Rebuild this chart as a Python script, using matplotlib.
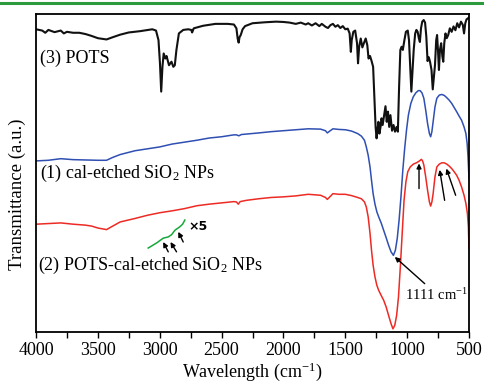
#---------------------------------------------------------------------------------
# FTIR spectra of POTS, cal-etched SiO2 NPs and POTS-cal-etched SiO2 NPs
#---------------------------------------------------------------------------------
import numpy as np
import matplotlib
matplotlib.use("Agg")
import matplotlib.pyplot as plt
from matplotlib.lines import Line2D

# (3) POTS - wavenumber [cm-1] and transmittance [a.u.]
pots_wn = [4000, 3950, 3925, 3900, 3850, 3800, 3775, 3750, 3700, 3650, 3600, 3550, 3500,
           3430, 3380, 3320, 3250, 3160, 3060, 3030, 3010, 2998, 2988, 2978, 2968, 2955,
           2945, 2925, 2905, 2890, 2878, 2865, 2845, 2810, 2770, 2745, 2738, 2725, 2650,
           2550, 2450, 2400, 2380, 2370, 2362, 2355, 2345, 2330, 2310, 2250, 2150, 2060,
           2000, 1950, 1900, 1860, 1820, 1800, 1770, 1740, 1710, 1690, 1660, 1640, 1620,
           1600, 1580, 1560, 1540, 1520, 1500, 1480, 1465, 1455, 1448, 1435, 1420, 1405,
           1397, 1388, 1375, 1362, 1350, 1335, 1322, 1312, 1300, 1288, 1275, 1265, 1255,
           1247, 1240, 1232, 1224, 1215, 1207, 1198, 1188, 1175, 1165, 1155, 1145, 1135,
           1122, 1110, 1098, 1085, 1075, 1065, 1055, 1045, 1035, 1022, 1010, 995, 985,
           975, 966, 957, 947, 935, 925, 915, 905, 897, 888, 878, 866, 855, 845, 835, 825,
           815, 803, 793, 785, 775, 765, 758, 750, 743, 735, 725, 715, 708, 700, 690, 680,
           668, 655, 640, 625, 610, 595, 580, 565, 550, 540, 530, 520, 500]
pots_t = [95.2, 94.8, 94.1, 95.0, 94.3, 94.8, 93.9, 94.4, 94.1, 94.1, 93.7, 93.1, 92.4,
          92.0, 92.7, 93.5, 94.2, 94.6, 95.2, 94.8, 91.8, 84.5, 75.6, 83.4, 87.6, 86.0,
          86.8, 83.9, 85.0, 83.4, 83.9, 88.7, 93.9, 95.0, 95.2, 95.0, 94.2, 95.5, 96.3,
          96.9, 96.9, 96.7, 95.5, 92.3, 91.0, 92.7, 93.4, 95.2, 96.2, 97.1, 97.4, 97.6,
          97.5, 97.3, 96.9, 97.3, 96.7, 97.1, 96.4, 97.1, 96.2, 96.9, 96.0, 95.6, 96.5,
          96.9, 96.0, 96.5, 95.6, 96.2, 95.2, 95.4, 93.9, 88.1, 91.8, 94.4, 94.8, 90.8,
          84.5, 89.7, 92.3, 89.5, 90.8, 92.3, 90.2, 86.0, 86.8, 85.3, 83.4, 74.0, 64.5,
          60.9, 63.5, 66.1, 62.4, 64.5, 67.2, 65.1, 67.7, 71.0, 66.1, 69.3, 64.5, 68.2,
          63.3, 65.1, 63.0, 64.5, 63.0, 77.1, 88.7, 89.7, 88.7, 91.8, 94.4, 94.8, 91.8,
          83.4, 75.6, 81.8, 88.7, 93.9, 95.0, 94.4, 92.3, 91.2, 95.5, 97.6, 98.1, 97.3,
          92.9, 85.2, 86.4, 85.0, 82.4, 76.3, 79.7, 83.9, 91.8, 93.4, 88.1, 82.4, 88.7,
          90.8, 86.6, 85.0, 90.8, 93.9, 92.4, 93.4, 95.5, 94.4, 96.1, 94.9, 97.1, 95.8,
          97.6, 96.6, 93.9, 97.1, 98.3, 98.9]

# (1) cal-etched SiO2 NPs
sio2_wn = [4000, 3900, 3800, 3700, 3600, 3500, 3430, 3380, 3320, 3200, 3000, 2900, 2800,
           2700, 2600, 2500, 2400, 2380, 2360, 2340, 2200, 2100, 2000, 1900, 1800, 1700,
           1660, 1645, 1625, 1600, 1550, 1500, 1450, 1400, 1370, 1345, 1330, 1315, 1300,
           1288, 1275, 1260, 1245, 1230, 1210, 1190, 1170, 1150, 1130, 1111, 1095, 1080,
           1065, 1050, 1035, 1020, 1005, 990, 970, 950, 930, 910, 895, 880, 865, 850, 835,
           820, 810, 800, 790, 775, 760, 740, 720, 700, 680, 660, 640, 620, 600, 580, 560,
           540, 525, 515, 508, 500]
sio2_t = [53.8, 54.0, 54.5, 54.2, 54.1, 54.0, 54.0, 54.9, 55.8, 57.0, 58.2, 59.1, 59.7,
          60.3, 61.0, 61.4, 62.0, 62.0, 61.7, 62.1, 62.6, 63.0, 63.3, 63.6, 63.9, 63.8,
          63.3, 62.6, 63.2, 63.9, 63.7, 63.6, 63.2, 62.4, 61.6, 60.3, 58.2, 55.6, 51.9,
          47.7, 43.5, 40.2, 37.8, 36.2, 34.3, 32.0, 29.7, 27.3, 25.2, 24.1, 25.7, 29.4,
          35.2, 42.5, 50.9, 57.7, 63.5, 68.2, 71.9, 74.0, 75.2, 75.9, 75.9, 75.2, 73.5,
          69.8, 65.6, 62.4, 61.4, 63.0, 66.1, 70.8, 73.5, 74.5, 74.7, 74.4, 73.7, 72.9,
          71.9, 70.6, 69.3, 67.9, 66.6, 64.5, 62.4, 59.3, 55.1, 48.3]

# (2) POTS-cal-etched SiO2 NPs
coated_wn = [4000, 3900, 3800, 3700, 3600, 3550, 3500, 3430, 3380, 3320, 3200, 3100, 3000,
             2900, 2800, 2700, 2600, 2500, 2400, 2380, 2365, 2350, 2300, 2200, 2100, 2000,
             1900, 1800, 1700, 1660, 1645, 1625, 1600, 1550, 1500, 1450, 1400, 1370, 1345,
             1330, 1315, 1300, 1288, 1275, 1260, 1245, 1230, 1210, 1190, 1170, 1150, 1130,
             1115, 1100, 1085, 1070, 1055, 1040, 1025, 1010, 995, 975, 950, 925, 900, 885,
             875, 865, 850, 835, 820, 810, 800, 790, 775, 760, 740, 720, 700, 680, 660, 640,
             620, 600, 580, 560, 540, 525, 513, 505, 500]
coated_t = [33.9, 34.1, 34.3, 33.9, 33.6, 33.3, 32.7, 32.2, 33.3, 34.6, 35.7, 36.7, 37.5,
            38.1, 38.8, 39.7, 40.2, 40.6, 41.0, 40.9, 40.2, 41.0, 41.4, 41.9, 42.3, 42.5,
            42.8, 43.3, 43.0, 42.3, 41.7, 42.5, 43.5, 43.3, 43.3, 42.9, 42.3, 41.9, 40.9,
            39.3, 36.2, 31.0, 25.7, 21.0, 17.3, 14.7, 13.1, 11.5, 10.0, 7.9, 5.2, 2.6,
            1.0, 2.1, 5.2, 11.0, 20.5, 31.0, 41.4, 47.2, 50.4, 51.9, 52.8, 53.2, 53.8, 54.3,
            53.8, 52.5, 48.8, 44.6, 40.9, 39.6, 40.9, 43.5, 48.8, 51.9, 52.8, 53.2, 53.2,
            52.8, 52.2, 51.4, 50.4, 49.3, 47.7, 45.6, 43.0, 40.4, 37.3, 33.1, 26.2]

# x5 magnified C-H region (green)
zoom_wn = [3093, 3025, 2972, 2931, 2904, 2877, 2837, 2815, 2797]
zoom_t = [26.4, 28.0, 29.5, 29.9, 30.6, 32.0, 33.1, 33.9, 35.2]

# annotation arrows: (tail_wn, tail_t, head_wn, head_t)
zoom_arrows = [(2931, 25.2, 2972, 28.3), (2864, 25.2, 2913, 28.3), (2810, 28.3, 2850, 31.5)]
peak_arrows = [(904, 45.1, 904, 53.0), (697, 41.4, 737, 51.0), (608, 43.0, 683, 51.4)]
band_arrow = (858, 15.2, 1100, 23.6)

plt.rcParams['font.family'] = ['Liberation Serif', 'DejaVu Serif']
plt.rcParams['mathtext.fontset'] = 'custom'
plt.rcParams['mathtext.rm'] = 'Liberation Serif'
plt.rcParams['mathtext.it'] = 'Liberation Serif:italic'


def draw_arrow(ax, tail_x, tail_y, head_x, head_y):
    ax.annotate("", xy=(head_x, head_y), xytext=(tail_x, tail_y),
                arrowprops=dict(arrowstyle="-|>", color="black", lw=1.0,
                                mutation_scale=7, shrinkA=0, shrinkB=0))


def plot():
    fig = plt.figure(figsize=(4.84, 3.83), dpi=100)
    ax = fig.add_axes([0.0744, 0.1332, 0.8946, 0.8302])

    # journal stripe on top
    fig.add_artist(Line2D([0, 1], [1 - 3/383, 1 - 3/383], color="#2e9a3e", lw=2.2))

    ax.plot(pots_wn, pots_t, color="#111111", lw=1.5)
    ax.plot(sio2_wn, sio2_t, color="#2f4fb2", lw=1.1)
    ax.plot(coated_wn, coated_t, color="#ee2a24", lw=1.1)
    ax.plot(zoom_wn, zoom_t, color="#17a83a", lw=1.1)

    for a in zoom_arrows + peak_arrows + [band_arrow]:
        draw_arrow(ax, *a)

    ax.text(3968, 86.0, "(3) POTS", fontsize=13, va="center")
    ax.text(3968, 50.0, "(1) cal-etched SiO$_2$ NPs", fontsize=13, va="center")
    ax.text(3981, 21.0, "(2) POTS-cal-etched SiO$_2$ NPs", fontsize=13, va="center")
    ax.text(2770, 33.3, "×5", fontsize=9, fontweight="bold", family="DejaVu Sans", va="center")
    ax.text(1020, 11.5, "1111 cm$^{-1}$", fontsize=10.5, va="center")

    ax.set_xlim(4000, 500)
    ax.set_ylim(0, 100)
    ax.set_xticks(np.arange(4000, 499, -500))
    ax.set_xticks(np.arange(3750, 500, -500), minor=True)
    ax.set_yticks([])
    ax.tick_params(axis="x", which="major", direction="out", length=4, width=1.0,
                   labelsize=13, pad=3)
    ax.tick_params(axis="x", which="minor", direction="out", length=4, width=1.0)
    for s in ax.spines.values():
        s.set_linewidth(1.3)

    ax.set_xlabel("Wavelength (cm$^{-1}$)", fontsize=13)
    ax.xaxis.set_label_coords(0.5, -0.089)
    ax.set_ylabel("Transmittance (a.u.)", fontsize=13.5)
    ax.yaxis.set_label_coords(-0.022, 0.434)

    fig.savefig("out.png", dpi=100)


def main():
    plot()


if __name__ == '__main__':
    main()
